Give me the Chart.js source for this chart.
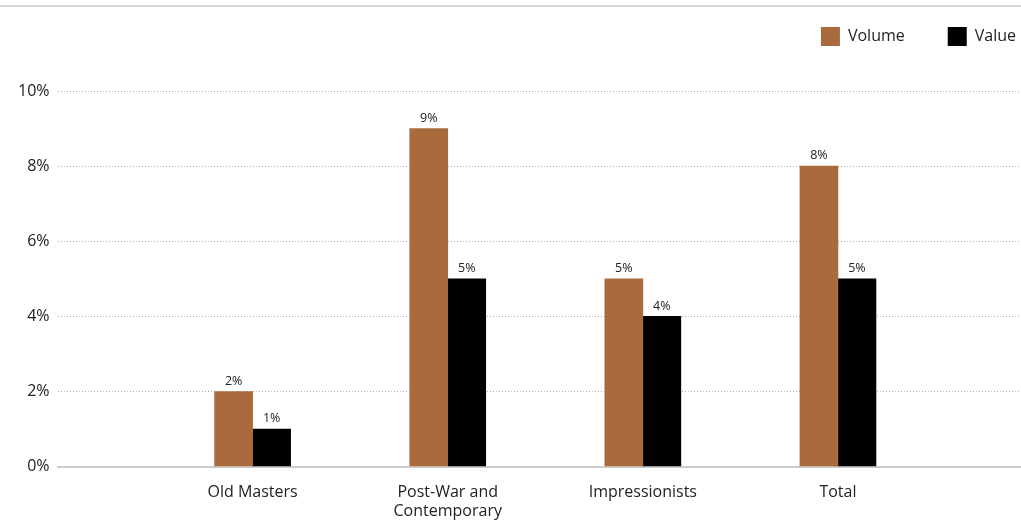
<!DOCTYPE html>
<html>
<head>
<meta charset="utf-8">
<script src="https://cdn.jsdelivr.net/npm/chart.js@4/dist/chart.umd.min.js"></script>
<style>
  html, body { margin: 0; padding: 0; background: #fff; }
  #wrap { position: relative; width: 1021px; height: 531px; overflow: hidden; }
  #rule { position: absolute; left: 0; top: 5px; width: 1021px; height: 2px; background: #d4d4d4; z-index: 2; }
  canvas { position: absolute; left: 0; top: -16px; }
</style>
</head>
<body>
<div id="wrap">
  <div id="rule"></div>
  <canvas id="chart" width="1059" height="547"></canvas>
</div>
<script>
// ---- data ----
const categories = ["Old Masters", ["Post-War and", "Contemporary"], "Impressionists", "Total"];
const volume = [2, 9, 5, 8];
const value = [1, 5, 4, 5];
const yTicks = [0, 2, 4, 6, 8, 10];

const FONT = "'Open Sans', 'Noto Sans', sans-serif";

// bar value labels drawn above each bar
const barLabels = {
  id: "barLabels",
  afterDatasetsDraw(chart) {
    const ctx = chart.ctx;
    ctx.save();
    ctx.font = "12.5px " + FONT;
    ctx.fillStyle = "#222";
    ctx.textAlign = "center";
    ctx.textBaseline = "bottom";
    chart.data.datasets.forEach((ds, i) => {
      chart.getDatasetMeta(i).data.forEach((bar, j) => {
        ctx.fillText(ds.data[j].y + "%", bar.x, bar.y - 4);
      });
    });
    ctx.restore();
  }
};

// extra space under the legend
const legendGap = {
  id: "legendGap",
  beforeInit(chart) {
    const fit = chart.legend.fit;
    chart.legend.fit = function () {
      fit.call(this);
      this.height += 35;
    };
  }
};

new Chart(document.getElementById("chart"), {
  type: "bar",
  data: {
    datasets: [
      {
        label: "Volume",
        data: volume.map((v, i) => ({ x: i + 1, y: v })),
        backgroundColor: "#A96B3D",
        barThickness: 38,
      },
      {
        label: "Value",
        data: value.map((v, i) => ({ x: i + 1, y: v })),
        backgroundColor: "#000000",
        barThickness: 38,
      },
    ],
  },
  options: {
    responsive: false,
    animation: false,
    layout: { padding: { top: 0, right: 0, left: 10, bottom: 2 } },
    plugins: {
      legend: {
        position: "top",
        align: "end",
        labels: {
          boxWidth: 19,
          boxHeight: 19,
          padding: 43,
          color: "#222",
          font: { family: FONT, size: 16 },
        },
      },
      tooltip: { enabled: false },
    },
    scales: {
      x: {
        type: "linear",
        min: 0,
        max: 5.133,
        offset: false,
        grid: { display: false },
        border: { color: "#cccccc", width: 2 },
        afterBuildTicks: (axis) => {
          axis.ticks = [1, 2, 3, 4].map((v) => ({ value: v }));
        },
        ticks: {
          color: "#222",
          font: { family: FONT, size: 16 },
          padding: 8,
          maxRotation: 0,
          autoSkip: false,
          callback: (v) => categories[v - 1] || "",
        },
      },
      y: {
        min: 0,
        max: 10,
        afterBuildTicks: (axis) => {
          axis.ticks = yTicks.map((v) => ({ value: v }));
        },
        grid: {
          color: (c) => (c.tick.value === 0 ? "rgba(0,0,0,0)" : "#b0b0b0"),
          lineWidth: 1,
          drawTicks: false,
        },
        border: { display: false, dash: [1, 2] },
        ticks: {
          color: "#222",
          font: { family: FONT, size: 16 },
          padding: 8,
          callback: (v) => v + "%",
        },
      },
    },
  },
  plugins: [barLabels, legendGap],
});
</script>
</body>
</html>
